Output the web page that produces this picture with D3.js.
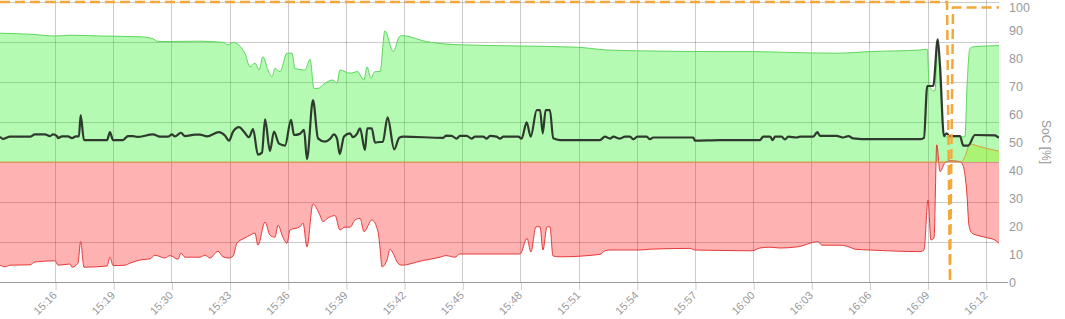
<!DOCTYPE html>
<html>
<head>
<meta charset="utf-8">
<script src="https://cdnjs.cloudflare.com/ajax/libs/d3/7.8.5/d3.min.js"></script>
<style>
  body { margin: 0; background: #fff; }
  svg { display: block; font-family: "Liberation Sans", Arial, sans-serif; }
</style>
</head>
<body>
<div id="chart"></div>
<script>
// time axis (minutes on the chart clock) and its labels
var tickMinutes = [3, 6, 9, 12, 15, 18, 21, 24, 27, 30, 33, 36, 39, 42, 45, 48, 51];
var tickLabels = ["15:16", "15:19", "15:30", "15:33", "15:36", "15:39", "15:42", "15:45", "15:48",
  "15:51", "15:54", "15:57", "16:00", "16:03", "16:06", "16:09", "16:12"];
var socTicks = [0, 10, 20, 30, 40, 50, 60, 70, 80, 90, 100];

// upper power band (green), kW
var maxPower = [[0.16,3.22],[1.86,3.19],[3.00,3.15],[3.77,3.17],[5.32,3.15],[7.38,3.13],[8.05,3.08],[8.31,3.01],
  [10.47,3.02],[11.66,2.99],[11.92,2.93],[12.18,2.99],[12.79,2.72],[13.05,2.38],[13.31,2.47],[13.52,2.30],
  [13.72,2.63],[13.98,2.30],[14.19,2.13],[14.34,2.34],[14.60,2.26],[14.96,2.72],[15.22,2.72],[15.37,2.34],
  [15.89,2.30],[16.15,2.57],[16.35,1.84],[16.56,1.84],[16.92,1.97],[17.33,2.05],[17.54,1.97],[17.69,2.30],
  [18.21,2.22],[18.62,2.26],[18.73,2.18],[18.93,2.05],[19.09,2.38],[19.28,2.10],[19.50,2.26],[19.76,2.26],
  [20.01,3.28],[20.44,2.76],[20.75,3.13],[20.88,3.16],[22.16,3.01],[23.88,2.93],[26.98,2.90],[29.90,2.87],
  [31.45,2.80],[32.99,2.78],[37.29,2.76],[38.99,2.76],[40.73,2.74],[43.31,2.72],[45.03,2.76],[47.60,2.80],
  [47.98,2.82],[48.08,1.93],[48.29,1.78],[48.38,1.78],[48.52,3.07],[48.69,1.55],[48.84,0.63],[49.77,0.63],
  [49.92,0.63],[50.04,1.98],[50.18,2.84],[50.35,2.88],[51.68,2.91]];

// lower power band (red), kW
var minPower = [[0.16,-2.58],[0.42,-2.62],[0.68,-2.58],[1.71,-2.57],[1.96,-2.50],[3.00,-2.47],[3.15,-2.58],
  [3.77,-2.55],[3.87,-2.63],[4.18,-2.53],[4.32,-1.99],[4.49,-2.63],[5.68,-2.60],[5.83,-2.38],[5.99,-2.59],
  [6.61,-2.58],[6.86,-2.53],[7.38,-2.45],[7.90,-2.42],[8.15,-2.33],[8.67,-2.40],[8.93,-2.34],[9.34,-2.43],
  [9.49,-2.28],[9.70,-2.38],[10.47,-2.38],[10.73,-2.33],[10.99,-2.40],[11.40,-2.23],[11.66,-2.37],
  [11.97,-2.40],[12.18,-2.35],[12.38,-2.03],[12.79,-1.90],[13.05,-1.83],[13.31,-1.78],[13.46,-2.08],
  [13.83,-1.50],[14.08,-1.83],[14.34,-1.88],[14.50,-1.58],[14.75,-1.88],[14.96,-2.03],[15.12,-1.70],
  [15.63,-1.62],[15.79,-1.53],[15.99,-2.12],[16.30,-1.05],[16.66,-1.33],[16.82,-1.49],[17.07,-1.40],
  [17.44,-1.34],[17.69,-1.70],[17.95,-1.63],[18.21,-1.63],[18.47,-1.45],[18.73,-1.41],[18.93,-1.74],
  [19.34,-1.45],[19.65,-1.73],[19.76,-2.15],[19.86,-2.62],[20.12,-2.45],[20.27,-2.18],[20.43,-2.28],
  [20.68,-2.53],[20.89,-2.58],[21.82,-2.48],[22.85,-2.38],[23.16,-2.34],[23.62,-2.38],[23.88,-2.30],
  [26.98,-2.30],[27.34,-1.91],[27.54,-2.25],[27.80,-1.62],[28.01,-1.62],[28.16,-2.20],[28.37,-1.62],
  [28.52,-1.62],[28.68,-2.35],[29.04,-2.37],[31.10,-2.31],[31.36,-2.22],[31.62,-2.20],[33.16,-2.20],
  [33.68,-2.18],[35.74,-2.16],[36.00,-2.20],[37.29,-2.21],[38.94,-2.22],[39.35,-2.15],[39.87,-2.13],
  [40.38,-2.15],[41.31,-2.12],[42.34,-1.99],[42.55,-2.08],[43.48,-2.08],[43.99,-2.13],[44.25,-2.18],
  [45.03,-2.20],[47.60,-2.24],[47.81,-2.20],[48.02,-0.95],[48.17,-1.95],[48.33,-1.90],[48.47,0.43],
  [48.64,-0.24],[48.89,-0.02],[49.15,0.03],[49.67,0.01],[49.82,-0.08],[50.03,-0.83],[50.13,-1.58],
  [50.29,-1.78],[50.70,-1.85],[51.21,-1.91],[51.47,-1.95],[51.68,-2.03]];

// extra power (thin orange, mostly zero), kW
var extraPower = [[0.16,0],[49.72,0],[49.92,0.13],[50.18,0.45],[50.70,0.38],[51.21,0.32],[51.68,0.27]];

// state of charge, %
var soc = [[0.16,51.9],[0.31,51.1],[0.68,51.9],[1.71,51.9],[1.96,52.7],[2.48,52.7],[2.74,52.1],[2.89,52.7],
  [3.10,52.1],[3.15,51.4],[3.36,52.0],[3.67,52.0],[3.87,51.4],[4.08,52.0],[4.23,52.0],[4.32,59.6],[4.49,50.7],
  [5.68,50.7],[5.83,53.5],[5.99,50.7],[6.50,50.7],[6.76,52.1],[7.02,52.1],[7.23,51.8],[8.05,52.7],[8.41,51.9],
  [8.82,51.9],[9.03,52.7],[9.18,52.0],[9.49,53.3],[9.70,52.1],[10.22,52.6],[10.47,52.6],[10.84,52.0],
  [11.45,53.5],[11.76,52.3],[11.97,50.5],[12.18,53.7],[12.49,55.3],[12.74,53.7],[13.00,51.7],[13.21,54.6],
  [13.46,45.5],[13.67,46.2],[13.83,58.1],[14.08,46.8],[14.29,53.7],[14.55,49.4],[14.86,48.7],[15.17,57.9],
  [15.32,52.5],[15.63,52.9],[15.84,54.3],[15.99,43.9],[16.30,65.0],[16.56,51.3],[16.92,50.1],[17.18,51.1],
  [17.38,52.7],[17.54,51.2],[17.68,45.7],[17.90,52.0],[18.21,53.1],[18.36,51.7],[18.57,52.9],[18.73,54.9],
  [18.98,47.1],[19.10,54.9],[19.33,54.9],[19.50,49.8],[19.76,50.0],[19.90,50.0],[20.15,58.8],[20.49,47.4],
  [20.75,51.5],[20.96,51.9],[23.02,51.5],[23.16,52.3],[23.45,52.2],[23.71,51.2],[23.88,52.2],[24.23,52.2],
  [24.48,51.2],[24.66,51.9],[25.08,51.9],[25.26,51.2],[25.43,52.2],[25.77,51.9],[25.95,51.2],[26.12,51.9],
  [26.89,51.9],[27.06,51.2],[27.32,57.0],[27.53,51.9],[27.84,61.4],[28.01,61.4],[28.15,53.1],[28.30,61.4],
  [28.52,61.4],[28.69,51.3],[29.04,50.7],[31.10,50.7],[31.36,51.9],[31.62,51.2],[31.79,51.9],[32.13,51.2],
  [32.39,51.9],[32.65,51.9],[32.82,51.0],[33.03,51.9],[33.51,51.9],[33.68,51.0],[33.85,51.6],[35.91,51.6],
  [36.00,50.5],[37.29,50.7],[39.35,50.7],[39.52,51.9],[39.87,51.9],[40.01,50.7],[40.13,51.9],[40.47,51.9],
  [40.64,50.9],[40.81,51.9],[41.24,51.6],[41.42,51.9],[42.10,51.9],[42.31,53.5],[42.45,52.2],[43.31,52.2],
  [43.65,51.6],[43.91,52.1],[44.16,51.3],[45.03,51.0],[47.60,51.0],[47.81,51.5],[47.98,70.0],[48.29,70.0],
  [48.52,86.7],[48.64,76.9],[48.84,52.1],[48.98,53.1],[49.12,52.1],[49.67,52.1],[49.84,48.7],[50.09,48.7],
  [50.44,52.5],[51.47,52.4],[51.64,51.7],[51.68,51.6]];

// target state of charge (orange dashed), %
var targetSoc = [[0.16,100],[49.00,100],[49.15,0],[49.31,98],[51.68,98]];

var svgWidth = 1065;
var svgHeight = 319;
var plot = { left: 0, right: 999, top: 2, bottom: 282 };

var svg = d3.select("#chart")
  .append("svg")
  .attr("width", svgWidth)
  .attr("height", svgHeight);

// scales
var xScale = d3.scaleLinear().domain([0.16, 51.68]).range([plot.left, plot.right]);
var powerScale = d3.scaleLinear().domain([-3, 4]).range([plot.bottom, plot.top]);
var socScale = d3.scaleLinear().domain([0, 100]).range([plot.bottom, plot.top]);

// grid
var grid = svg.append("g").attr("stroke", "rgba(0,0,0,0.2)").attr("stroke-width", 1);
grid.selectAll("line.h")
  .data(powerScale.ticks(7))
  .enter()
  .append("line")
  .attr("x1", plot.left)
  .attr("x2", plot.right)
  .attr("y1", d => Math.round(powerScale(d)) + 0.5)
  .attr("y2", d => Math.round(powerScale(d)) + 0.5);

grid.selectAll("line.v")
  .data(tickMinutes)
  .enter()
  .append("line")
  .attr("x1", d => Math.round(xScale(d)) + 0.5)
  .attr("x2", d => Math.round(xScale(d)) + 0.5)
  .attr("y1", 0)
  .attr("y2", plot.bottom);

// area + line helpers
function powerArea(data) {
  return d3.area()
    .curve(d3.curveMonotoneX)
    .x(d => xScale(d[0]))
    .y0(powerScale(0))
    .y1(d => powerScale(d[1]))(data);
}
function powerLine(data) {
  return d3.line()
    .curve(d3.curveMonotoneX)
    .x(d => xScale(d[0]))
    .y(d => powerScale(d[1]))(data);
}

svg.append("path").attr("d", powerArea(minPower)).attr("fill", "rgba(255,0,0,0.3)");
svg.append("path").attr("d", powerArea(maxPower)).attr("fill", "rgba(10,240,0,0.3)");
svg.append("path").attr("d", powerArea(extraPower)).attr("fill", "rgba(150,230,0,0.35)");

svg.append("path").attr("d", powerLine(maxPower))
  .attr("fill", "none").attr("stroke", "#5ed65e").attr("stroke-width", 1);
svg.append("path").attr("d", powerLine(minPower))
  .attr("fill", "none").attr("stroke", "#e53a3a").attr("stroke-width", 1);
svg.append("path").attr("d", powerLine(extraPower))
  .attr("fill", "none").attr("stroke", "#d9a040").attr("stroke-width", 1);

// state of charge
svg.append("path")
  .attr("d", d3.line().curve(d3.curveMonotoneX).x(d => xScale(d[0])).y(d => socScale(d[1]))(soc))
  .attr("fill", "none")
  .attr("stroke", "#2f3a2f")
  .attr("stroke-width", 2.2)
  .attr("stroke-linejoin", "round");

svg.append("path")
  .attr("d", d3.line().x(d => xScale(d[0])).y(d => socScale(d[1]))(targetSoc))
  .attr("fill", "none")
  .attr("stroke", "#f5a83a")
  .attr("stroke-width", 2.5)
  .attr("stroke-dasharray", "10,5");

// x axis
var bottomAxis = d3.axisBottom(xScale)
  .tickValues(tickMinutes)
  .tickFormat((d, i) => tickLabels[i])
  .tickSizeInner(8)
  .tickSizeOuter(0);

var xAxis = svg.append("g")
  .attr("transform", `translate(0, ${plot.bottom})`)
  .call(bottomAxis);
xAxis.select(".domain").remove();
xAxis.selectAll(".tick line").attr("stroke", "rgba(0,0,0,0.2)").attr("transform", "translate(0.5,0)");
xAxis.selectAll(".tick text")
  .attr("fill", "#999")
  .style("font-size", "11px")
  .attr("text-anchor", "end")
  .attr("y", 0)
  .attr("dy", 0)
  .attr("transform", "translate(2, 14) rotate(-45)");

svg.append("line")
  .attr("x1", plot.left)
  .attr("x2", plot.right + 9)
  .attr("y1", plot.bottom + 0.5)
  .attr("y2", plot.bottom + 0.5)
  .attr("stroke", "#999");

// right axis (SoC)
var rightAxis = d3.axisRight(socScale)
  .tickValues(socTicks)
  .tickSize(0)
  .tickPadding(10);
var yAxis = svg.append("g")
  .attr("transform", `translate(${plot.right}, 0)`)
  .call(rightAxis);
yAxis.select(".domain").remove();
yAxis.selectAll(".tick text")
  .attr("fill", "#999")
  .style("font-size", "12.5px");
// keep the top label inside the picture
yAxis.selectAll(".tick text")
  .filter(d => d === 100)
  .attr("dy", "0.75em");

svg.append("text")
  .attr("transform", `translate(1042, ${socScale(50)}) rotate(90)`)
  .attr("text-anchor", "middle")
  .attr("fill", "#999")
  .style("font-size", "12px")
  .text("SoC [%]");
</script>
</body>
</html>
